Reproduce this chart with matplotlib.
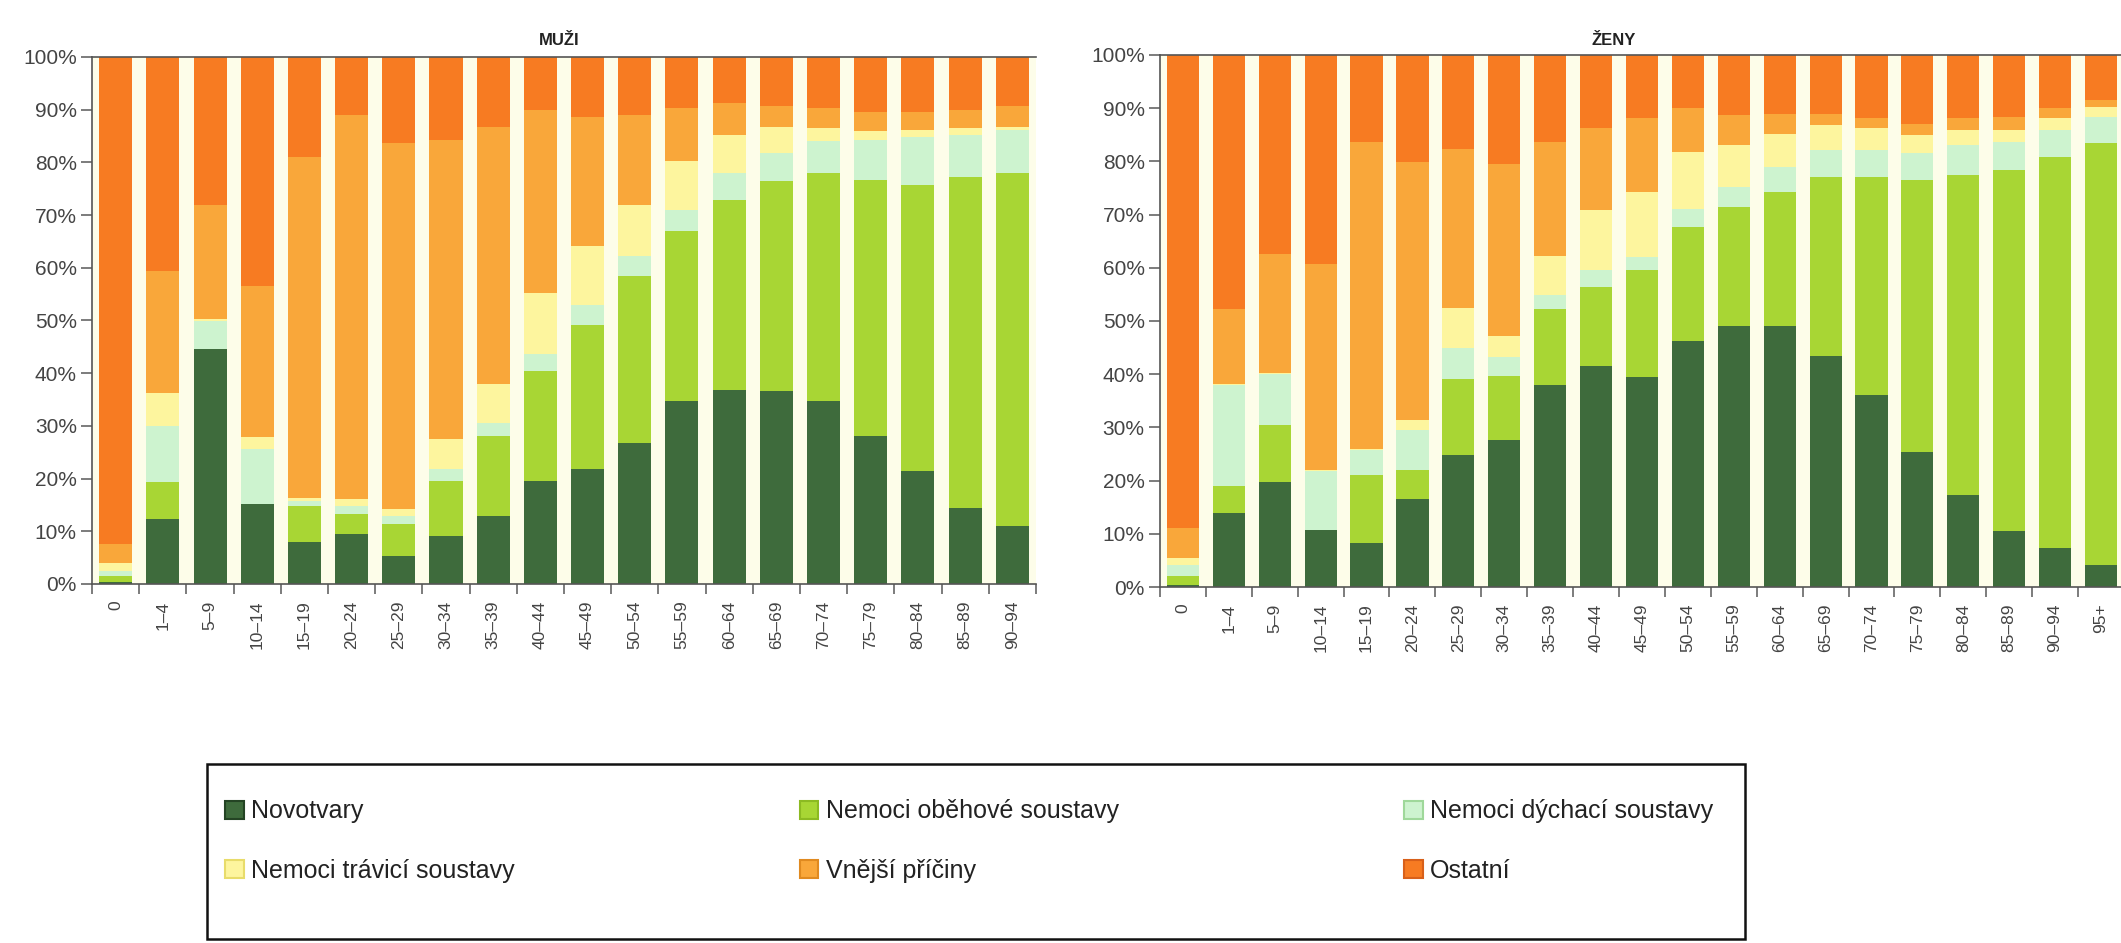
import numpy as np
import matplotlib.pyplot as plt
from matplotlib.patches import Patch, Rectangle

plt.rcParams['font.family'] = ['Liberation Sans', 'DejaVu Sans']

# věkové skupiny
vek_muzi = ['0', '1–4', '5–9', '10–14', '15–19', '20–24', '25–29', '30–34', '35–39', '40–44',
            '45–49', '50–54', '55–59', '60–64', '65–69', '70–74', '75–79', '80–84', '85–89', '90–94']
vek_zeny = vek_muzi + ['95+']

pricina = ['Novotvary', 'Nemoci oběhové soustavy', 'Nemoci dýchací soustavy',
           'Nemoci trávicí soustavy', 'Vnější příčiny', 'Ostatní']
barvy = ['#3e6b3c', '#a8d634', '#cdf3cf', '#fdf59e', '#f9a73a', '#f77b22']
okraje = ['#244424', '#8cba22', '#9fd89a', '#e8dc6a', '#e08a20', '#d8601a']

# podíly v % (muži)
muzi_novotvary = [0.3, 12.3, 44.5, 15.2, 7.9, 9.5, 5.4, 9.2, 12.9, 19.6,
                  21.8, 26.8, 34.7, 36.9, 36.6, 34.7, 28.1, 21.5, 14.5, 11.0]
muzi_obehove = [1.2, 7.0, 0.0, 0.0, 6.9, 3.8, 6.0, 10.4, 15.2, 20.8,
                27.4, 31.6, 32.2, 36.0, 39.8, 43.3, 48.6, 54.3, 62.8, 67.0]
muzi_dychaci = [1.0, 10.7, 5.4, 10.4, 1.0, 1.5, 1.5, 2.2, 2.5, 3.2,
                3.8, 3.8, 4.1, 5.1, 5.4, 6.0, 7.6, 9.1, 7.9, 8.2]
muzi_travici = [1.5, 6.3, 0.4, 2.2, 0.6, 1.3, 1.4, 5.7, 7.3, 11.6,
                11.1, 9.8, 9.2, 7.2, 5.0, 2.5, 1.6, 1.3, 1.3, 0.6]
muzi_vnejsi = [3.6, 23.0, 21.7, 28.7, 64.7, 72.9, 69.4, 56.8, 48.9, 34.8,
               24.6, 17.0, 10.1, 6.0, 3.8, 3.8, 3.7, 3.4, 3.5, 3.8]
muzi_ostatni = [92.4, 40.7, 28.0, 43.5, 18.9, 11.0, 16.3, 15.7, 13.2, 10.0,
                11.3, 11.0, 9.7, 8.8, 9.4, 9.7, 10.4, 10.4, 10.0, 9.4]

# podíly v % (ženy)
zeny_novotvary = [0.3, 13.9, 19.7, 10.8, 8.3, 16.6, 24.8, 27.6, 37.9, 41.5,
                  39.4, 46.3, 49.0, 49.1, 43.5, 36.0, 25.4, 17.3, 10.5, 7.3, 4.2]
zeny_obehove = [1.8, 5.0, 10.7, 0.0, 12.7, 5.4, 14.3, 12.1, 14.4, 14.9,
                20.1, 21.4, 22.4, 25.2, 33.6, 41.1, 51.1, 60.1, 67.8, 73.6, 79.2]
zeny_dychaci = [2.1, 19.0, 9.6, 11.0, 4.7, 7.5, 5.8, 3.5, 2.5, 3.1,
                2.5, 3.4, 3.8, 4.7, 5.0, 5.0, 5.0, 5.7, 5.4, 5.0, 5.0]
zeny_travici = [1.3, 0.3, 0.3, 0.2, 0.3, 1.8, 7.6, 4.0, 7.5, 11.3,
                12.3, 10.7, 7.9, 6.2, 4.7, 4.1, 3.4, 2.8, 2.2, 2.2, 1.9]
zeny_vnejsi = [5.6, 14.1, 22.3, 38.8, 57.7, 48.6, 29.9, 32.4, 21.4, 15.4,
               13.8, 8.2, 5.6, 3.8, 2.2, 1.9, 2.2, 2.2, 2.5, 1.9, 1.2]
zeny_ostatni = [88.9, 47.7, 37.4, 39.2, 16.3, 20.1, 17.6, 20.4, 16.3, 13.8,
                11.9, 10.0, 11.3, 11.0, 11.0, 11.9, 12.9, 11.9, 11.6, 10.0, 8.5]

muzi = [muzi_novotvary, muzi_obehove, muzi_dychaci, muzi_travici, muzi_vnejsi, muzi_ostatni]
zeny = [zeny_novotvary, zeny_obehove, zeny_dychaci, zeny_travici, zeny_vnejsi, zeny_ostatni]


def graf(ax, vek, serie):
    x = np.arange(len(vek))
    spodek = np.zeros(len(vek))
    for hodnoty, barva in zip(serie, barvy):
        hodnoty = np.array(hodnoty)
        ax.bar(x, hodnoty, bottom=spodek, width=0.7, color=barva, linewidth=0)
        spodek += hodnoty
    ax.set_facecolor('#fdfde9')
    ax.set_xlim(-0.5, len(vek) - 0.5)
    ax.set_ylim(0, 100)
    ax.set_yticks(np.arange(0, 101, 10))
    ax.set_yticklabels(['%d%%' % v for v in range(0, 101, 10)])
    ax.set_xticks(x)
    ax.set_xticklabels(vek, rotation=90)
    ax.set_xticks(np.arange(len(vek) + 1) - 0.5, minor=True)
    ax.tick_params(axis='x', which='major', length=0, pad=12, labelsize=12.5, labelcolor='#444444')
    ax.tick_params(axis='x', which='minor', length=7, width=1.2, color='#666666')
    ax.tick_params(axis='y', length=8, width=1.2, color='#666666', labelsize=15, labelcolor='#444444', pad=3)
    ax.spines['right'].set_visible(False)
    for s in ['left', 'bottom', 'top']:
        ax.spines[s].set_color('#555555')
        ax.spines[s].set_linewidth(1.2)


fig = plt.figure(figsize=(21.21, 9.43), dpi=100)
ax1 = fig.add_axes([0.0434, 0.3807, 0.4450, 0.5589])
ax2 = fig.add_axes([0.5469, 0.3775, 0.4545, 0.5642])
graf(ax1, vek_muzi, muzi)
graf(ax2, vek_zeny, zeny)

fig.text(0.2637, 0.957, 'MUŽI', ha='center', va='center', fontsize=12, fontweight='bold', color='#222222')
fig.text(0.7607, 0.957, 'ŽENY', ha='center', va='center', fontsize=12, fontweight='bold', color='#222222')

# rámeček legendy
fig.patches.append(Rectangle((0.0976, 0.004), 0.7251, 0.186, transform=fig.transFigure,
                             facecolor='white', edgecolor='#111111', linewidth=1.8, zorder=0))

# legenda po řádcích
poradi = [0, 3, 1, 4, 2, 5]
handles = [Patch(facecolor=barvy[i], edgecolor=okraje[i], linewidth=1.5) for i in poradi]
labels = [pricina[i] for i in poradi]
leg = fig.legend(handles, labels, ncol=3, loc='center left',
                 bbox_to_anchor=(0.106, 0.108),
                 fontsize=18, frameon=False,
                 handlelength=0.75, handleheight=0.75, handletextpad=0.3,
                 borderpad=0, labelspacing=1.42, columnspacing=11.4, borderaxespad=0)
for t in leg.get_texts():
    t.set_color('#222222')

fig.savefig('out.png', dpi=100, facecolor='white')
